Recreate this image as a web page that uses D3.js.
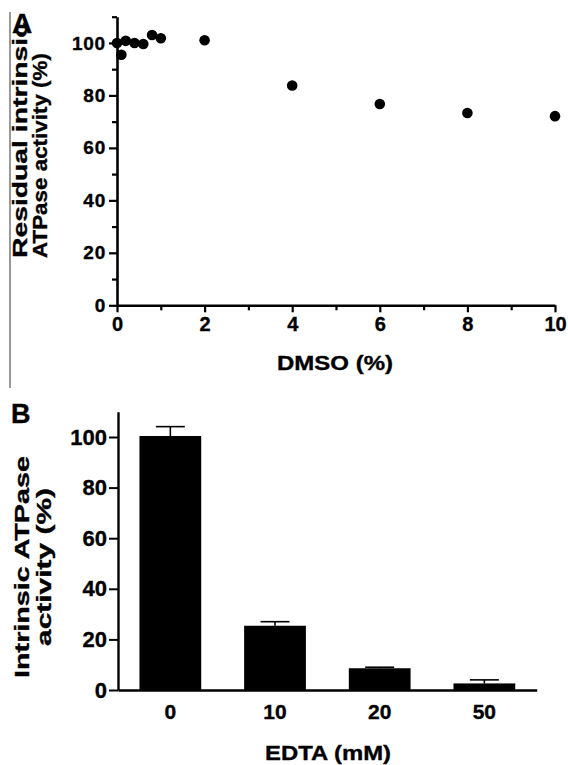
<!DOCTYPE html>
<html>
<head>
<meta charset="utf-8">
<script src="https://cdn.jsdelivr.net/npm/d3@7"></script>
<style>
  body { margin: 0; background: #fff; }
  svg { display: block; font-family: "Liberation Sans", Arial, sans-serif; font-weight: bold; }
  .axis path, .axis line { stroke: #000; }
  .axis text { fill: #000; font-family: "Liberation Sans", Arial, sans-serif; font-weight: bold; }
  text { stroke: #000; stroke-width: 0.35px; }
</style>
</head>
<body>
<svg id="chart" width="568" height="765"></svg>
<script>
// panel A: DMSO titration
const dmso = [0, 0.1, 0.2, 0.4, 0.6, 0.8, 1, 2, 4, 6, 8, 10];
const residual = [100, 95.5, 100.8, 100, 99.6, 103, 101.8, 101, 83.8, 76.7, 73.3, 72.1];
const dmsoTicks = [0, 2, 4, 6, 8, 10];
const dmsoMinor = [1, 3, 5, 7, 9];
const pctTicks = [0, 20, 40, 60, 80, 100];
const pctMinor = [10, 30, 50, 70, 90, 110];

// panel B: EDTA
const edta = ["0", "10", "20", "50"];
const activity = [100.4, 25.4, 8.6, 2.6];
const activityErr = [3.7, 1.6, 0.4, 1.4];

const svg = d3.select("#chart");

// stretch a label along its own baseline so it spans `len` px
function stretchTo(sel, len) {
    const natural = sel.node().getComputedTextLength();
    sel.attr("transform", `scale(${len / natural},1)`);
}

// label drawn at (x, y), optionally rotated, then stretched
function label(parent, x, y, txt, size, len, anchor, rot) {
    const g = parent.append("g")
        .attr("transform", `translate(${x},${y})` + (rot ? " rotate(-90)" : ""));
    const t = g.append("text")
        .attr("text-anchor", anchor)
        .attr("font-size", size)
        .text(txt);
    if (len) stretchTo(t, len);
    return t;
}

// thin grey rule on the left edge of the figure
svg.append("line")
    .attr("x1", 10).attr("x2", 10)
    .attr("y1", 12).attr("y2", 388)
    .attr("stroke", "#777").attr("stroke-width", 1.5);

// ---------- A ----------
const xA = d3.scaleLinear().domain([0, 10]).range([117, 555]);
const yA = d3.scaleLinear().domain([0, 110]).range([305.3, 16.7]);

const gA = svg.append("g");

gA.append("g")
    .attr("class", "axis")
    .attr("transform", "translate(117,0)")
    .call(d3.axisLeft(yA).tickValues(pctMinor).tickSize(5).tickSizeOuter(0).tickFormat(""))
    .call(g => g.select(".domain").remove())
    .selectAll("line").attr("stroke-width", 2.2);

gA.append("g")
    .attr("class", "axis")
    .attr("transform", "translate(117,0)")
    .call(d3.axisLeft(yA).tickValues(pctTicks).tickSize(8).tickSizeOuter(0).tickPadding(3))
    .call(g => g.select(".domain").attr("stroke-width", 2.6))
    .call(g => g.selectAll("line").attr("stroke-width", 2.2))
    .call(g => g.selectAll("text").attr("font-size", 19).attr("letter-spacing", 0.8));

gA.append("g")
    .attr("class", "axis")
    .attr("transform", "translate(0,305.3)")
    .call(d3.axisBottom(xA).tickValues(dmsoMinor).tickSize(5).tickSizeOuter(0).tickFormat(""))
    .call(g => g.select(".domain").remove())
    .selectAll("line").attr("stroke-width", 2.2);

gA.append("g")
    .attr("class", "axis")
    .attr("transform", "translate(0,305.3)")
    .call(d3.axisBottom(xA).tickValues(dmsoTicks).tickSize(7).tickSizeOuter(0).tickPadding(5))
    .call(g => g.select(".domain").attr("stroke-width", 2.6))
    .call(g => g.selectAll("line").attr("stroke-width", 2.2))
    .call(g => g.selectAll("text").attr("font-size", 20));

gA.selectAll("circle")
    .data(dmso.map((d, i) => [d, residual[i]]))
    .enter()
    .append("circle")
    .attr("cx", d => xA(d[0]))
    .attr("cy", d => yA(d[1]))
    .attr("r", 5.3)
    .attr("fill", "#000");

label(gA, 335, 370, "DMSO (%)", 20, 116, "middle", false);
label(gA, 26.7, 258, "Residual intrinsic", 20, 236, "start", true);
label(gA, 46.5, 258, "ATPase activity (%)", 21, 205, "start", true);
label(svg, 12, 33, "A", 28, 0, "start", false);

// ---------- B ----------
const xB = d3.scaleBand().domain(edta).range([118, 536.7]).paddingInner(0.41).paddingOuter(0.205);
const yB = d3.scaleLinear().domain([0, 110]).range([690, 411.7]);

const gB = svg.append("g");

gB.selectAll("rect")
    .data(edta.map((d, i) => [d, activity[i]]))
    .enter()
    .append("rect")
    .attr("x", d => xB(d[0]))
    .attr("y", d => yB(d[1]))
    .attr("width", xB.bandwidth())
    .attr("height", d => yB(0) - yB(d[1]))
    .attr("fill", "#000");

// error bars (upper half only)
const errs = edta.map((d, i) => ({ cat: d, top: activity[i] + activityErr[i], v: activity[i] }));
gB.selectAll("line.err")
    .data(errs)
    .enter()
    .append("line")
    .attr("class", "err")
    .attr("x1", d => xB(d.cat) + xB.bandwidth() / 2)
    .attr("x2", d => xB(d.cat) + xB.bandwidth() / 2)
    .attr("y1", d => yB(d.v))
    .attr("y2", d => yB(d.top))
    .attr("stroke", "#000").attr("stroke-width", 1.6);
gB.selectAll("line.cap")
    .data(errs)
    .enter()
    .append("line")
    .attr("class", "cap")
    .attr("x1", d => xB(d.cat) + xB.bandwidth() / 2 - 14.5)
    .attr("x2", d => xB(d.cat) + xB.bandwidth() / 2 + 14.5)
    .attr("y1", d => yB(d.top))
    .attr("y2", d => yB(d.top))
    .attr("stroke", "#000").attr("stroke-width", 1.6);

gB.append("g")
    .attr("class", "axis")
    .attr("transform", "translate(118,0)")
    .call(d3.axisLeft(yB).tickValues(pctTicks).tickSize(9).tickSizeOuter(0).tickPadding(2))
    .call(g => g.select(".domain").attr("stroke-width", 2.4))
    .call(g => g.selectAll("line").attr("stroke-width", 2))
    .call(g => g.selectAll("text").attr("font-size", 22));

gB.append("g")
    .attr("class", "axis")
    .attr("transform", "translate(0,690)")
    .call(d3.axisBottom(xB).tickSize(0).tickSizeOuter(0).tickPadding(14))
    .call(g => g.select(".domain").attr("stroke-width", 2.6))
    .call(g => g.selectAll("text").attr("font-size", 21));

label(gB, 328, 760, "EDTA (mM)", 21, 126, "middle", false);
label(gB, 29, 567, "Intrinsic ATPase", 21, 222, "middle", true);
label(gB, 51, 567, "activity (%)", 21, 158, "middle", true);
label(svg, 11, 423, "B", 27, 0, "start", false);
</script>
</body>
</html>
